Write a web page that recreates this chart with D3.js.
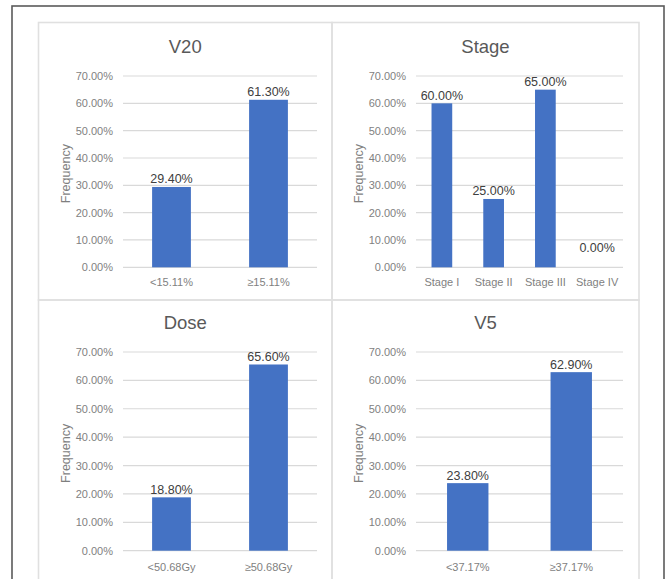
<!DOCTYPE html>
<html>
<head>
<meta charset="utf-8">
<script src="https://cdn.jsdelivr.net/npm/d3@7"></script>
<style>
  html, body { margin: 0; padding: 0; background: #fff; }
  svg { display: block; }
  text { font-family: "Liberation Sans", Arial, sans-serif; }
</style>
</head>
<body>
<svg id="chart" width="667" height="579"></svg>
<script>
// Four small bar charts: share of cases in each group
const v20Categories = ["<15.11%", "≥15.11%"];
const v20Values = [29.4, 61.3];

const stageCategories = ["Stage I", "Stage II", "Stage III", "Stage IV"];
const stageValues = [60.0, 25.0, 65.0, 0.0];

const doseCategories = ["<50.68Gy", "≥50.68Gy"];
const doseValues = [18.8, 65.6];

const v5Categories = ["<37.17%", "≥37.17%"];
const v5Values = [23.8, 62.9];

const yTicks = [0, 10, 20, 30, 40, 50, 60, 70];
const yAxisTitle = "Frequency";

const svg = d3.select("#chart");
const fmt = d => d.toFixed(2) + "%";

// outer frame
svg.append("rect")
  .attr("x", 12).attr("y", 6)
  .attr("width", 652).attr("height", 600)
  .attr("fill", "none").attr("stroke", "#5a5a5a").attr("stroke-width", 1.6);

// panel outlines
const panelBox = [
  [38.5, 22.5, 293.5, 277.5], [332, 22.5, 307, 277.5],
  [38.5, 300, 293.5, 300], [332, 300, 307, 300]
];
panelBox.forEach(([x, y, w, h]) => {
  svg.append("rect").attr("x", x).attr("y", y).attr("width", w).attr("height", h)
    .attr("fill", "none").attr("stroke", "#e0e0e0").attr("stroke-width", 1.6);
});

const panels = [
  { title: "V20",   cats: v20Categories,   vals: v20Values,   box: 0, x0: 123, x1: 317, y0: 267.3, y1: 76,  titleY: 53,  xlabY: 287 },
  { title: "Stage", cats: stageCategories, vals: stageValues, box: 1, x0: 416, x1: 623, y0: 267.3, y1: 76,  titleY: 53,  xlabY: 287 },
  { title: "Dose",  cats: doseCategories,  vals: doseValues,  box: 2, x0: 123, x1: 317, y0: 550.7, y1: 352, titleY: 329, xlabY: 572 },
  { title: "V5",    cats: v5Categories,    vals: v5Values,    box: 3, x0: 416, x1: 623, y0: 550.7, y1: 352, titleY: 329, xlabY: 572 }
];

panels.forEach(p => {
  const g = svg.append("g");
  const x = d3.scaleBand().domain(p.cats).range([p.x0, p.x1]).paddingInner(0.6).paddingOuter(0.3);
  const y = d3.scaleLinear().domain([0, 70]).range([p.y0, p.y1]);

  // gridlines
  g.selectAll("line.grid").data(yTicks).join("line")
    .attr("x1", p.x0).attr("x2", p.x1)
    .attr("y1", d => y(d)).attr("y2", d => y(d))
    .attr("stroke", "#d9d9d9").attr("stroke-width", 1.2);

  // y axis labels
  const yAxis = d3.axisLeft(y).tickValues(yTicks).tickFormat(fmt).tickSize(0).tickPadding(10);
  const ya = g.append("g").attr("transform", `translate(${p.x0},0)`).call(yAxis);
  ya.select(".domain").remove();
  ya.selectAll("text").attr("fill", "#7f7f7f").style("font-size", "11px")
    .style("font-family", "'Liberation Sans', Arial, sans-serif");

  // bars
  g.selectAll("rect.bar").data(p.vals).join("rect")
    .attr("x", (d, i) => x(p.cats[i]))
    .attr("width", x.bandwidth())
    .attr("y", d => y(d))
    .attr("height", d => y(0) - y(d))
    .attr("fill", "#4472c4");

  // value labels
  g.selectAll("text.val").data(p.vals).join("text")
    .attr("x", (d, i) => x(p.cats[i]) + x.bandwidth() / 2)
    .attr("y", d => Math.min(y(d) - 3.5, y(0) - 15.5))
    .attr("text-anchor", "middle")
    .attr("fill", "#404040")
    .style("font-size", "12.5px")
    .text(fmt);

  // category labels
  const xAxis = d3.axisBottom(x).tickSize(0).tickPadding(0);
  const xa = g.append("g").attr("transform", `translate(0,${p.xlabY - 9})`).call(xAxis);
  xa.select(".domain").remove();
  xa.selectAll("text").attr("fill", "#7f7f7f").attr("dy", "0.71em").attr("y", 0)
    .style("font-size", "11px")
    .style("font-family", "'Liberation Sans', Arial, sans-serif");

  // title, centred on its panel
  const [bx, , bw] = panelBox[p.box];
  g.append("text")
    .attr("x", bx + bw / 2)
    .attr("y", p.titleY)
    .attr("text-anchor", "middle")
    .attr("fill", "#595959")
    .style("font-size", "18.5px")
    .text(p.title);

  // axis title
  g.append("text")
    .attr("transform", `translate(${p.x0 - 53},${(p.y0 + p.y1) / 2 + 2}) rotate(-90)`)
    .attr("text-anchor", "middle")
    .attr("fill", "#7f7f7f")
    .style("font-size", "12.5px")
    .text(yAxisTitle);
});
</script>
</body>
</html>
